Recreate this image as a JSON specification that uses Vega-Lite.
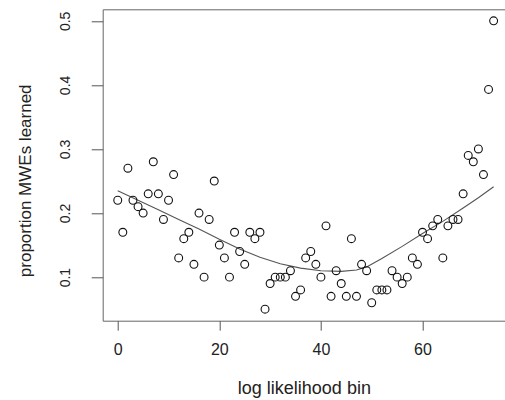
{
  "$schema": "https://vega.github.io/schema/vega-lite/v6.json",
  "width": 402.3,
  "height": 311.4,
  "autosize": {"type": "none"},
  "padding": {"left": 102.7, "top": 9.3, "right": 0, "bottom": 79.3},
  "background": "white",
  "config": {
    "font": "Liberation Sans",
    "view": {"stroke": "#666666", "strokeWidth": 1}
  },
  "datasets": {
    "pts": [
      {"bin": 0, "p": 0.22}, {"bin": 1, "p": 0.17}, {"bin": 2, "p": 0.27}, {"bin": 3, "p": 0.22}, {"bin": 4, "p": 0.21},
      {"bin": 5, "p": 0.20}, {"bin": 6, "p": 0.23}, {"bin": 7, "p": 0.28}, {"bin": 8, "p": 0.23}, {"bin": 9, "p": 0.19},
      {"bin": 10, "p": 0.22}, {"bin": 11, "p": 0.26}, {"bin": 12, "p": 0.13}, {"bin": 13, "p": 0.16}, {"bin": 14, "p": 0.17},
      {"bin": 15, "p": 0.12}, {"bin": 16, "p": 0.20}, {"bin": 17, "p": 0.10}, {"bin": 18, "p": 0.19}, {"bin": 19, "p": 0.25},
      {"bin": 20, "p": 0.15}, {"bin": 21, "p": 0.13}, {"bin": 22, "p": 0.10}, {"bin": 23, "p": 0.17}, {"bin": 24, "p": 0.14},
      {"bin": 25, "p": 0.12}, {"bin": 26, "p": 0.17}, {"bin": 27, "p": 0.16}, {"bin": 28, "p": 0.17}, {"bin": 29, "p": 0.05},
      {"bin": 30, "p": 0.09}, {"bin": 31, "p": 0.10}, {"bin": 32, "p": 0.10}, {"bin": 33, "p": 0.10}, {"bin": 34, "p": 0.11},
      {"bin": 35, "p": 0.07}, {"bin": 36, "p": 0.08}, {"bin": 37, "p": 0.13}, {"bin": 38, "p": 0.14}, {"bin": 39, "p": 0.12},
      {"bin": 40, "p": 0.10}, {"bin": 41, "p": 0.18}, {"bin": 42, "p": 0.07}, {"bin": 43, "p": 0.11}, {"bin": 44, "p": 0.09},
      {"bin": 45, "p": 0.07}, {"bin": 46, "p": 0.16}, {"bin": 47, "p": 0.07}, {"bin": 48, "p": 0.12}, {"bin": 49, "p": 0.11},
      {"bin": 50, "p": 0.06}, {"bin": 51, "p": 0.08}, {"bin": 52, "p": 0.08}, {"bin": 53, "p": 0.08}, {"bin": 54, "p": 0.11},
      {"bin": 55, "p": 0.10}, {"bin": 56, "p": 0.09}, {"bin": 57, "p": 0.10}, {"bin": 58, "p": 0.13}, {"bin": 59, "p": 0.12},
      {"bin": 60, "p": 0.17}, {"bin": 61, "p": 0.16}, {"bin": 62, "p": 0.18}, {"bin": 63, "p": 0.19}, {"bin": 64, "p": 0.13},
      {"bin": 65, "p": 0.18}, {"bin": 66, "p": 0.19}, {"bin": 67, "p": 0.19}, {"bin": 68, "p": 0.23}, {"bin": 69, "p": 0.29},
      {"bin": 70, "p": 0.28}, {"bin": 71, "p": 0.30}, {"bin": 72, "p": 0.26}, {"bin": 73, "p": 0.393}, {"bin": 74, "p": 0.50}
    ],
    "curve": [
      {"bin": 0, "p": 0.235}, {"bin": 4, "p": 0.220}, {"bin": 8, "p": 0.205}, {"bin": 12, "p": 0.190},
      {"bin": 16, "p": 0.175}, {"bin": 20, "p": 0.159}, {"bin": 24, "p": 0.144}, {"bin": 28, "p": 0.131},
      {"bin": 32, "p": 0.121}, {"bin": 36, "p": 0.114}, {"bin": 40, "p": 0.110}, {"bin": 44, "p": 0.109},
      {"bin": 47, "p": 0.111}, {"bin": 49, "p": 0.116}, {"bin": 52, "p": 0.129}, {"bin": 56, "p": 0.148},
      {"bin": 60, "p": 0.168}, {"bin": 64, "p": 0.187}, {"bin": 68, "p": 0.208}, {"bin": 71, "p": 0.224},
      {"bin": 74, "p": 0.241}
    ]
  },
  "encoding": {
    "x": {
      "field": "bin", "type": "quantitative",
      "scale": {"domain": [-2.96, 76.24], "nice": false, "zero": false},
      "axis": {
        "title": "log likelihood bin",
        "values": [0, 20, 40, 60],
        "grid": false, "domain": false,
        "tickSize": 9.5, "tickColor": "#555555", "tickWidth": 1,
        "labelFontSize": 16, "labelColor": "#222222",
        "labelBaseline": "middle", "labelPadding": 19.5,
        "labelFlush": false,
        "titleFontSize": 18, "titleFontWeight": "normal", "titleColor": "#222222",
        "titleBaseline": "middle", "titleY": 67.5
      }
    },
    "y": {
      "field": "p", "type": "quantitative",
      "scale": {"domain": [0.032, 0.518], "nice": false, "zero": false},
      "axis": {
        "title": "proportion MWEs learned",
        "values": [0.1, 0.2, 0.3, 0.4, 0.5],
        "format": ".1f",
        "grid": false, "domain": false,
        "tickSize": 11.5, "tickColor": "#555555", "tickWidth": 1,
        "labelFontSize": 14, "labelColor": "#222222",
        "labelAngle": -90, "labelAlign": "center", "labelBaseline": "middle",
        "labelPadding": 26,
        "labelFlush": false,
        "titleFontSize": 17, "titleFontWeight": "normal", "titleColor": "#222222",
        "titleAngle": -90, "titleAlign": "center", "titleBaseline": "middle",
        "titleX": -77.5, "titleY": 171
      }
    }
  },
  "layer": [
    {
      "data": {"name": "curve"},
      "mark": {"type": "line", "color": "#555555", "strokeWidth": 1.1},
      "encoding": {}
    },
    {
      "data": {"name": "pts"},
      "mark": {"type": "point", "shape": "circle", "filled": false, "size": 62, "stroke": "#111111", "strokeWidth": 1.1, "opacity": 1},
      "encoding": {}
    }
  ]
}
